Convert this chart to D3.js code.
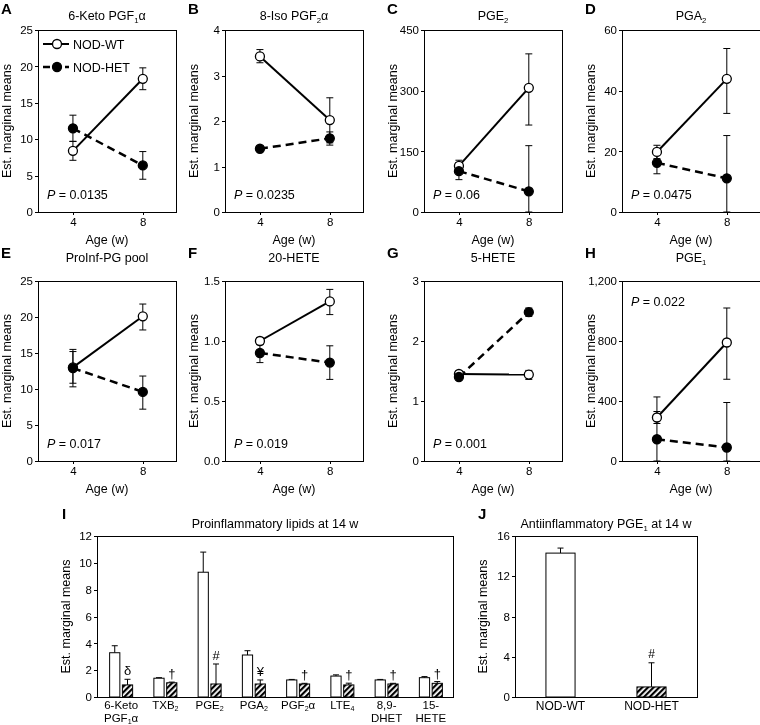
<!DOCTYPE html>
<html><head><meta charset="utf-8">
<script src="https://cdn.jsdelivr.net/npm/d3@7"></script>
<style>
body{margin:0;background:#fff}
svg{will-change:transform}
text{font-family:"Liberation Sans",Arial,Helvetica,sans-serif;fill:#000}
</style>
</head><body>
<svg id="chart" width="760" height="725"></svg>
<script>
// ---------- DATA ----------
const ages = [4, 8];
const panelLetters = ["A","B","C","D","E","F","G","H"];
const panelTitles = ["6-Keto PGF_1α","8-Iso PGF_2α","PGE_2","PGA_2","ProInf-PG pool","20-HETE","5-HETE","PGE_1"];
const yMaxes = [25, 4, 450, 60, 25, 1.5, 3, 1200];
const yTickValues = [[0,5,10,15,20,25],[0,1,2,3,4],[0,150,300,450],[0,20,40,60],[0,5,10,15,20,25],[0,0.5,1.0,1.5],[0,1,2,3],[0,400,800,1200]];
const yTickFormats = ["d","d","d","d","d",".1f","d",","];
const pValues = ["0.0135","0.0235","0.06","0.0475","0.017","0.019","0.001","0.022"];

const wtMeans = [[8.4,18.3],[3.42,2.02],[114,307],[19.8,43.9],[13.0,20.1],[1.0,1.33],[1.45,1.44],[290,790]];
const wtLow   = [[7.1,16.8],[3.28,1.52],[100,215],[17.6,32.5],[10.8,18.2],[0.97,1.22],[1.41,1.36],[250,545]];
const wtHigh  = [[9.7,19.8],[3.57,2.51],[128,391],[22.0,53.9],[15.2,21.8],[1.03,1.43],[1.49,1.51],[330,1020]];
const hetMeans = [[11.5,6.4],[1.39,1.62],[101,51],[16.2,11.1],[12.9,9.6],[0.9,0.82],[1.40,2.48],[145,90]];
const hetLow   = [[9.7,4.5],[1.34,1.47],[80,0],[12.6,0],[10.3,7.2],[0.82,0.68],[1.37,2.41],[0,0]];
const hetHigh  = [[13.3,8.3],[1.44,1.76],[122,164],[19.8,25.2],[15.5,11.8],[0.97,0.96],[1.43,2.55],[427,390]];
const legendLabels = ["NOD-WT","NOD-HET"];

const lipidLabels = [["6-Keto","PGF_1α"],["TXB_2"],["PGE_2"],["PGA_2"],["PGF_2α"],["LTE_4"],["8,9-","DHET"],["15-","HETE"]];
const lipidWT     = [3.3, 1.4, 9.3, 3.13, 1.27, 1.56, 1.27, 1.44];
const lipidWTErr  = [3.82, 1.44, 10.8, 3.45, 1.31, 1.65, 1.31, 1.52];
const lipidHET    = [0.9, 1.06, 0.97, 0.97, 0.97, 0.9, 0.97, 1.02];
const lipidHETErr = [1.32, 1.11, 2.46, 1.27, 1.02, 1.03, 1.02, 1.15];
const lipidMarks  = ["δ","†","#","¥","†","†","†","†"];
const lipidTicks  = [0,2,4,6,8,10,12];

const groupNames = ["NOD-WT","NOD-HET"];
const pge1Means  = [14.3, 1.0];
const pge1ErrTop = [14.8, 3.4];
const pge1Marks  = ["", "#"];
const pge1Ticks  = [0,4,8,12,16];

// ---------- HELPERS ----------
const svg = d3.select("#chart");
const defs = svg.append("defs");
const pat = defs.append("pattern").attr("id","hatch").attr("patternUnits","userSpaceOnUse")
  .attr("width",4).attr("height",4).attr("patternTransform","rotate(45)");
pat.append("rect").attr("width",4).attr("height",4).attr("fill","#fff");
pat.append("rect").attr("width",2.2).attr("height",4).attr("fill","#000");

function rich(textSel, str, shift){
  shift = shift || 3;
  let parts = [];
  for (let i=0;i<str.length;i++){
    if (str[i]==="_" && i+1<str.length){ parts.push({t:str[i+1],sub:true}); i++; }
    else {
      if (parts.length && !parts[parts.length-1].sub) parts[parts.length-1].t += str[i];
      else parts.push({t:str[i],sub:false});
    }
  }
  let shifted = false;
  parts.forEach(p=>{
    const ts = textSel.append("tspan").text(p.t);
    if (p.sub){ ts.attr("font-size","0.62em").attr("dy", shifted?0:shift); shifted = true; }
    else if (shifted){ ts.attr("dy",-shift); shifted=false; }
  });
}

function frame(g,w,h){
  g.append("rect").attr("x",0.5).attr("y",0.5).attr("width",w).attr("height",h)
    .attr("fill","none").attr("stroke","#000").attr("stroke-width",1).attr("shape-rendering","crispEdges");
}
function styleAxis(a){
  a.select(".domain").remove();
  a.selectAll(".tick line").attr("stroke","#000").attr("shape-rendering","crispEdges");
  a.selectAll(".tick text").attr("font-size",11.5).attr("font-family","Liberation Sans, Arial, sans-serif").attr("fill","#000");
}
function yLabel(x,yc){
  svg.append("text").attr("transform",`translate(${x},${yc}) rotate(-90)`)
    .attr("text-anchor","middle").attr("font-size",12.5).text("Est. marginal means");
}

// ---------- LINE PANELS ----------
const colLefts = [38, 225, 424, 622];
const rowTops = [30, 281], rowBottoms = [212, 461];
const titleBase = [20, 262], letterBase = [14, 258];
const W = 138;

panelLetters.forEach((letter,i)=>{
  const row = Math.floor(i/4), col = i%4;
  const left = colLefts[col], top = rowTops[row], h = rowBottoms[row]-rowTops[row];
  const g = svg.append("g").attr("transform",`translate(${left},${top})`);
  const x = d3.scaleLinear().domain([2,9.9]).range([0,W]);
  const y = d3.scaleLinear().domain([0,yMaxes[i]]).range([h,0]);

  styleAxis(g.append("g").call(d3.axisLeft(y).tickValues(yTickValues[i]).tickFormat(d3.format(yTickFormats[i])).tickSize(3).tickPadding(2)));
  styleAxis(g.append("g").attr("transform",`translate(0,${h})`).call(d3.axisBottom(x).tickValues(ages).tickFormat(d3.format("d")).tickSize(3).tickPadding(3)));
  frame(g,W,h);

  svg.append("text").attr("x",left-37).attr("y",letterBase[row]).attr("font-size",15).attr("font-weight","bold").text(letter);
  rich(svg.append("text").attr("x",left+W/2).attr("y",titleBase[row]).attr("text-anchor","middle").attr("font-size",12.5), panelTitles[i]);
  yLabel(left-27, top+h/2);
  svg.append("text").attr("x",left+W/2).attr("y",rowBottoms[row]+32).attr("text-anchor","middle").attr("font-size",12.5).text("Age (w)");

  const series = [
    {m:wtMeans[i], lo:wtLow[i], hi:wtHigh[i], dash:null, fill:"#fff", sw:2},
    {m:hetMeans[i], lo:hetLow[i], hi:hetHigh[i], dash:"8,5", fill:"#000", sw:2.5}
  ];
  series.forEach(s=>{
    ages.forEach((a,k)=>{
      const cx = x(a);
      g.append("line").attr("x1",cx).attr("x2",cx).attr("y1",y(s.lo[k])).attr("y2",y(s.hi[k])).attr("stroke","#000").attr("stroke-width",1);
      [s.lo[k], s.hi[k]].forEach(v=>{
        g.append("line").attr("x1",cx-3.5).attr("x2",cx+3.5).attr("y1",y(v)).attr("y2",y(v)).attr("stroke","#000").attr("stroke-width",1);
      });
    });
  });
  const ln = d3.line().x((d,k)=>x(ages[k])).y(d=>y(d));
  series.forEach(s=>{
    g.append("path").attr("d",ln(s.m)).attr("fill","none").attr("stroke","#000")
      .attr("stroke-width",s.sw).attr("stroke-dasharray",s.dash);
  });
  series.forEach(s=>{
    s.m.forEach((v,k)=>{
      g.append("circle").attr("cx",x(ages[k])).attr("cy",y(v)).attr("r",4.5)
        .attr("fill",s.fill).attr("stroke","#000").attr("stroke-width",1.3);
    });
  });
  const py = (i===7) ? 25 : h-13;
  const pt = g.append("text").attr("x",9).attr("y",py).attr("font-size",12.5);
  pt.append("tspan").attr("font-style","italic").text("P");
  pt.append("tspan").text(" = "+pValues[i]);

  if (i===0){
    const ly = [14, 37];
    legendLabels.forEach((lab,k)=>{
      const s = series[k];
      g.append("line").attr("x1",5).attr("x2",31).attr("y1",ly[k]).attr("y2",ly[k]).attr("stroke","#000")
        .attr("stroke-width",s.sw).attr("stroke-dasharray",k? "7,4": null);
      g.append("circle").attr("cx",19).attr("cy",ly[k]).attr("r",4.5).attr("fill",s.fill).attr("stroke","#000").attr("stroke-width",1.3);
      g.append("text").attr("x",35).attr("y",ly[k]+4.5).attr("font-size",12.5).text(lab);
    });
  }
});

// ---------- PANEL I ----------
(function(){
  const left=97, right=453, top=536, bottom=697, w=right-left, h=bottom-top;
  const g = svg.append("g").attr("transform",`translate(${left},${top})`);
  const x0 = d3.scaleBand().domain(d3.range(lipidLabels.length)).range([2,w]).padding(0);
  const x1 = d3.scaleBand().domain([0,1]).range([-11.5,11.5]).paddingInner(0.2);
  const y = d3.scaleLinear().domain([0,12]).range([h,0]);
  styleAxis(g.append("g").call(d3.axisLeft(y).tickValues(lipidTicks).tickFormat(d3.format("d")).tickSize(3).tickPadding(2)));
  frame(g,w,h);
  const groups = [
    {vals:lipidWT, err:lipidWTErr, fill:"#fff"},
    {vals:lipidHET, err:lipidHETErr, fill:"url(#hatch)"}
  ];
  lipidLabels.forEach((lab,j)=>{
    const c = x0(j)+x0.bandwidth()/2;
    groups.forEach((s,k)=>{
      const bx = c + x1(k), bw = x1.bandwidth(), cx = bx+bw/2;
      g.append("line").attr("x1",cx).attr("x2",cx).attr("y1",y(s.vals[j])).attr("y2",y(s.err[j])).attr("stroke","#000").attr("stroke-width",1);
      g.append("line").attr("x1",cx-3).attr("x2",cx+3).attr("y1",y(s.err[j])).attr("y2",y(s.err[j])).attr("stroke","#000").attr("stroke-width",1);
      g.append("rect").attr("x",bx).attr("y",y(s.vals[j])).attr("width",bw).attr("height",h-y(s.vals[j]))
        .attr("fill",s.fill).attr("stroke","#000").attr("stroke-width",1);
      if (k===1){
        g.append("text").attr("x",cx).attr("y",y(s.err[j])-4).attr("text-anchor","middle").attr("font-size",13).attr("fill","#000").text(lipidMarks[j]);
      }
    });
    lab.forEach((line,li)=>{
      rich(g.append("text").attr("x",c).attr("y",h+12+li*13).attr("text-anchor","middle").attr("font-size",11.5), line, 2);
    });
  });
  svg.append("text").attr("x",left-35).attr("y",519).attr("font-size",15).attr("font-weight","bold").text("I");
  svg.append("text").attr("x",(left+right)/2).attr("y",528).attr("text-anchor","middle").attr("font-size",12.5).text("Proinflammatory lipids at 14 w");
  yLabel(left-27, top+h/2);
})();

// ---------- PANEL J ----------
(function(){
  const left=515, right=697, top=536, bottom=697, w=right-left, h=bottom-top;
  const g = svg.append("g").attr("transform",`translate(${left},${top})`);
  const x = d3.scaleBand().domain(groupNames).range([0,w]).padding(0);
  const y = d3.scaleLinear().domain([0,16]).range([h,0]);
  styleAxis(g.append("g").call(d3.axisLeft(y).tickValues(pge1Ticks).tickFormat(d3.format("d")).tickSize(3).tickPadding(2)));
  frame(g,w,h);
  const bw = x.bandwidth()*0.32;
  groupNames.forEach((name,k)=>{
    const c = x(name)+x.bandwidth()/2;
    g.append("line").attr("x1",c).attr("x2",c).attr("y1",y(pge1Means[k])).attr("y2",y(pge1ErrTop[k])).attr("stroke","#000").attr("stroke-width",1);
    g.append("line").attr("x1",c-3).attr("x2",c+3).attr("y1",y(pge1ErrTop[k])).attr("y2",y(pge1ErrTop[k])).attr("stroke","#000").attr("stroke-width",1);
    g.append("rect").attr("x",c-bw/2).attr("y",y(pge1Means[k])).attr("width",bw).attr("height",h-y(pge1Means[k]))
      .attr("fill",k? "url(#hatch)":"#fff").attr("stroke","#000").attr("stroke-width",1);
    if (pge1Marks[k]) g.append("text").attr("x",c).attr("y",y(pge1ErrTop[k])-5).attr("text-anchor","middle").attr("font-size",12).text(pge1Marks[k]);
    g.append("text").attr("x",c).attr("y",h+13).attr("text-anchor","middle").attr("font-size",12).text(name);
  });
  svg.append("text").attr("x",left-37).attr("y",519).attr("font-size",15).attr("font-weight","bold").text("J");
  rich(svg.append("text").attr("x",(left+right)/2).attr("y",528).attr("text-anchor","middle").attr("font-size",12.5), "Antiinflammatory PGE_1 at 14 w");
  yLabel(left-28, top+h/2);
})();
</script>
</body></html>
